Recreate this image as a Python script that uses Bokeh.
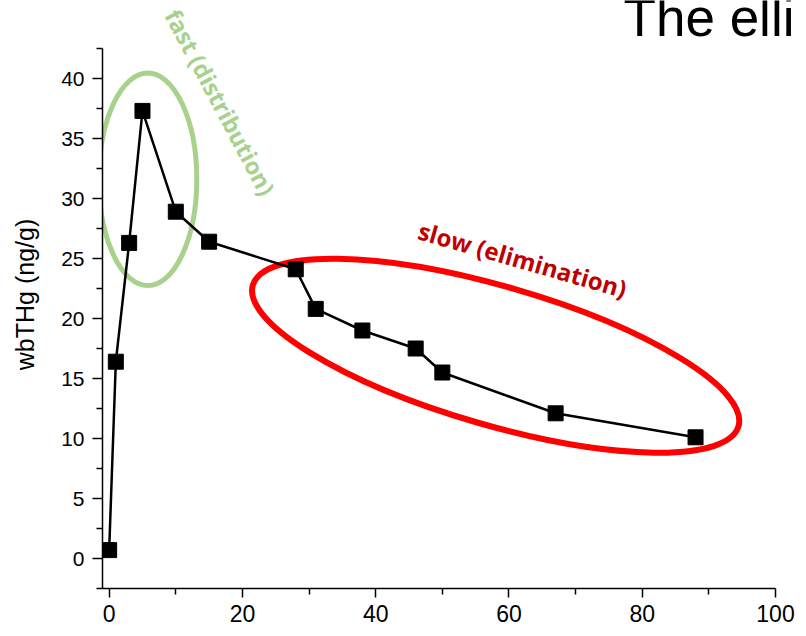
from bokeh.embed import file_html
from bokeh.models import FixedTicker, Label, Range1d
from bokeh.plotting import figure
from bokeh.resources import INLINE

# whole-blood total Hg after a single dose: sampling day vs concentration
days = [0, 1, 3, 5, 10, 15, 28, 31, 38, 46, 50, 67, 88]
wbthg = [0.7, 16.4, 26.3, 37.3, 28.9, 26.4, 24.1, 20.8, 19.0, 17.5, 15.5, 12.1, 10.1]

x_major = [0, 20, 40, 60, 80, 100]
x_minor = [10, 30, 50, 70, 90]
y_major = [0, 5, 10, 15, 20, 25, 30, 35, 40]
y_minor = [-2.5, 2.5, 7.5, 12.5, 17.5, 22.5, 27.5, 32.5, 37.5, 42.5]

GREEN = "#a9d18e"
RED = "#ff0000"
DARK_RED = "#c00000"

# the frame reaches the top and right edges so the notes above the axes stay visible;
# the axes themselves are limited with `bounds`
p = figure(
    width=806, height=636,
    x_range=Range1d(-1, 104.65), y_range=Range1d(-2.5, 46.5),
    output_backend="svg", toolbar_location=None,
    min_border_left=102, min_border_right=0,
    min_border_top=0, min_border_bottom=48,
    background_fill_color="white", border_fill_color="white",
)
p.outline_line_color = None
p.grid.visible = False

for ax in (p.xaxis[0], p.yaxis[0]):
    ax.axis_line_color = "black"
    ax.axis_line_width = 1.5
    ax.major_tick_line_color = "black"
    ax.minor_tick_line_color = "black"
    ax.major_tick_line_width = 1.5
    ax.minor_tick_line_width = 1.5
    ax.major_tick_in = 0
    ax.minor_tick_in = 0
    ax.major_label_text_color = "black"

p.xaxis[0].bounds = (-1, 100)
p.xaxis[0].ticker = FixedTicker(ticks=x_major, minor_ticks=x_minor)
p.xaxis[0].major_tick_out = 9
p.xaxis[0].minor_tick_out = 6
p.xaxis[0].major_label_text_font = "Liberation Sans"
p.xaxis[0].major_label_text_font_size = "23px"
p.xaxis[0].major_label_standoff = 7

p.yaxis[0].bounds = (-2.5, 42.5)
p.yaxis[0].ticker = FixedTicker(ticks=y_major, minor_ticks=y_minor)
p.yaxis[0].major_tick_out = 10
p.yaxis[0].minor_tick_out = 6
p.yaxis[0].major_label_text_font = "Liberation Sans"
p.yaxis[0].major_label_text_font_size = "21px"
p.yaxis[0].major_label_standoff = 8
p.yaxis[0].axis_label = "wbTHg (ng/g)"
p.yaxis[0].axis_label_text_font = "Liberation Sans"
p.yaxis[0].axis_label_text_font_size = "25px"
p.yaxis[0].axis_label_text_font_style = "normal"
p.yaxis[0].axis_label_text_color = "black"
p.yaxis[0].axis_label_standoff = 19

# phase outlines
p.ellipse(x=5.8, y=31.6, width=14.7, height=17.7, angle=0,
          fill_color=None, line_color=GREEN, line_width=5)
p.ellipse(x=58.0, y=16.9, width=75.9, height=11.55, angle=-16.2, angle_units="deg",
          fill_color=None, line_color=RED, line_width=6)

# concentration curve
p.line(days, wbthg, line_color="black", line_width=2.5)
p.scatter(days, wbthg, marker="square", size=15,
          fill_color="black", line_color="black")

p.add_layout(Label(x=9.4, y=45.6, text="fast (distribution)", angle=-62, angle_units="deg",
                   text_color=GREEN, text_font="Open Sans", text_font_style="bold",
                   text_font_size="23.5px", text_align="left", text_baseline="middle"))
p.add_layout(Label(x=46.5, y=27.4, text="slow (elimination)", angle=-16, angle_units="deg",
                   text_color=DARK_RED, text_font="Open Sans", text_font_style="bold",
                   text_font_size="24px", text_align="left", text_baseline="middle"))
p.add_layout(Label(x=77.2, y=45.1, text="The elli", text_color="black",
                   text_font="Liberation Sans", text_font_size="53px",
                   text_align="left", text_baseline="alphabetic"))

open("out.html", "w").write(file_html(p, INLINE))
